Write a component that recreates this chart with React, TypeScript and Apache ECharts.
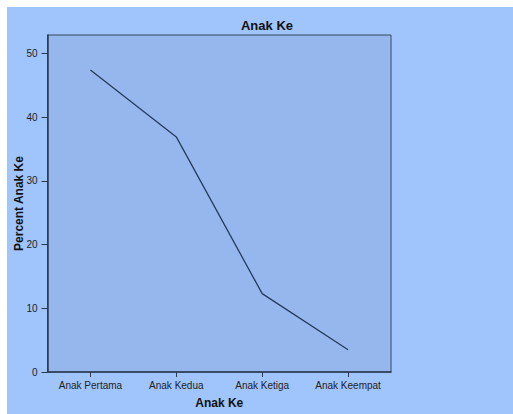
import React, { useEffect, useRef } from "react";
import * as echarts from "echarts";

const categories = ["Anak Pertama", "Anak Kedua", "Anak Ketiga", "Anak Keempat"];
const percentValues = [47.4, 36.9, 12.3, 3.5];
const yTicks = [0, 10, 20, 30, 40, 50];
const chartTitle = "Anak Ke";
const xTitle = "Anak Ke";
const yTitle = "Percent Anak Ke";

const FONT = "Arial, 'Liberation Sans', sans-serif";

export default function App() {
  const ref = useRef<HTMLDivElement>(null);
  useEffect(() => {
    document.body.style.margin = "0";
    const chart = echarts.init(ref.current!, null, { renderer: "svg" });
    chart.setOption({
      animation: false,
      backgroundColor: "#ffffff",
      graphic: [
        {
          type: "rect",
          z: -10,
          silent: true,
          shape: { x: 7, y: 7, width: 506, height: 407 },
          style: { fill: "#a0c5fc" },
        },
      ],
      title: {
        text: chartTitle,
        left: 262,
        textAlign: "center",
        top: 14,
        textStyle: { fontFamily: FONT, fontSize: 13, fontWeight: "bold", color: "#111111" },
      },
      grid: {
        left: 47.5,
        top: 35,
        right: 122,
        bottom: 38,
        show: true,
        backgroundColor: "#95b7ee",
        borderColor: "#34495f",
        borderWidth: 1,
      },
      xAxis: {
        type: "category",
        data: categories,
        boundaryGap: true,
        name: xTitle,
        nameLocation: "middle",
        nameGap: 25,
        nameMoveOverlap: false,
        nameTextStyle: { fontFamily: FONT, fontSize: 12, fontWeight: "bold", color: "#111111" },
        axisLine: { lineStyle: { color: "#2a3a52", width: 1.5 } },
        axisTick: { show: true, alignWithLabel: true, interval: 0, length: 5, lineStyle: { color: "#2a3a52" } },
        axisLabel: { fontFamily: FONT, fontSize: 10, color: "#222222", margin: 8, interval: 0 },
        splitLine: { show: false },
      },
      yAxis: {
        type: "value",
        min: 0,
        max: 52.9,
        interval: 10,
        name: yTitle,
        nameLocation: "middle",
        nameGap: 23,
        nameRotate: 90,
        nameMoveOverlap: false,
        nameTextStyle: { fontFamily: FONT, fontSize: 12, fontWeight: "bold", color: "#111111" },
        axisLine: { show: true, lineStyle: { color: "#2a3a52", width: 1.5 } },
        axisTick: { show: true, length: 6, customValues: yTicks, lineStyle: { color: "#2a3a52" } },
        axisLabel: {
          fontFamily: FONT,
          fontSize: 10,
          color: "#222222",
          margin: 10,
          customValues: yTicks,
        },
        splitLine: { show: false },
      },
      series: [
        {
          type: "line",
          data: percentValues,
          symbol: "none",
          lineStyle: { color: "#253c5c", width: 1.3 },
        },
      ],
    });
    return () => chart.dispose();
  }, []);
  return <div ref={ref} style={{ width: 513, height: 414 }} />;
}
